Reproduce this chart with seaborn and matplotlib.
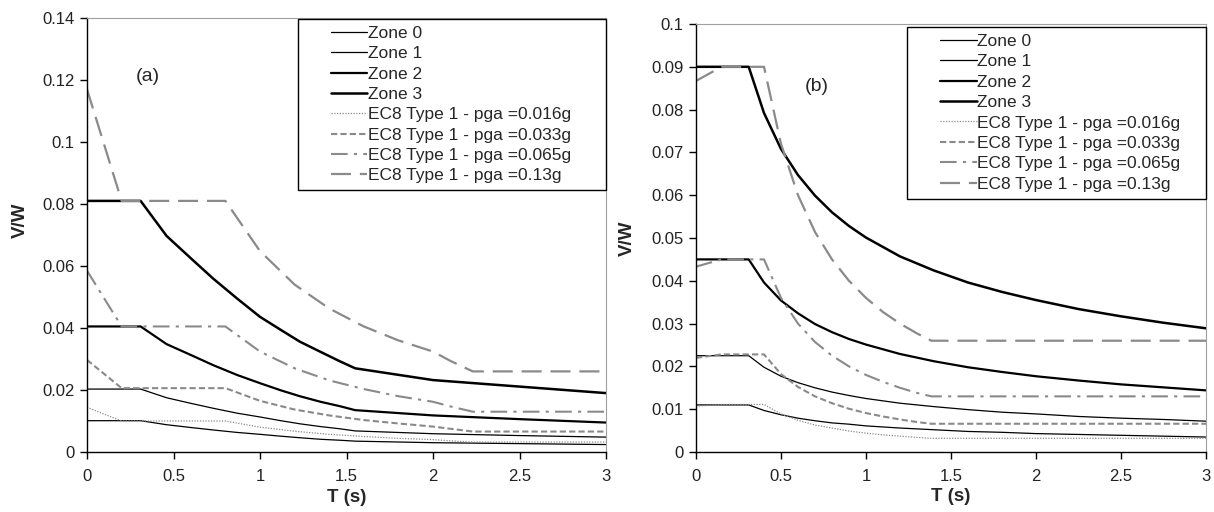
import numpy as np
import matplotlib
matplotlib.use("Agg")
import matplotlib.pyplot as plt
from matplotlib.ticker import MultipleLocator, FuncFormatter
from matplotlib.legend_handler import HandlerLine2D
import seaborn as sns

# ---------------- panel (a) ----------------
t_zone_a = [0, 0.31, 0.46, 0.60, 0.73, 0.87, 1.0, 1.12, 1.23, 1.35, 1.46, 1.55, 2.0, 2.5, 3.0]
zone0_a = [0.0101, 0.0101, 0.0088, 0.0079, 0.0071, 0.0063, 0.0057, 0.0051, 0.0046, 0.0041, 0.0038, 0.0035, 0.0030, 0.0027, 0.0024]
zone1_a = [0.0203, 0.0203, 0.0175, 0.0157, 0.0141, 0.0125, 0.0113, 0.0101, 0.0091, 0.0082, 0.0075, 0.0068, 0.0059, 0.0053, 0.0048]
zone2_a = [0.0405, 0.0405, 0.0348, 0.0313, 0.0280, 0.0248, 0.0222, 0.0199, 0.0180, 0.0162, 0.0148, 0.0135, 0.0118, 0.0106, 0.0095]
zone3_a = [0.081, 0.081, 0.0697, 0.0625, 0.0559, 0.0494, 0.0436, 0.0394, 0.0356, 0.0323, 0.0293, 0.0270, 0.0232, 0.0211, 0.0190]

t_ec8_a = [0, 0.2, 0.8, 1.0, 1.2, 1.4, 1.6, 1.8, 2.0, 2.1, 2.23, 3.0]
ec8_016_a = [0.0144, 0.0100, 0.0100, 0.0080, 0.0067, 0.0057, 0.0050, 0.0044, 0.0040, 0.0036, 0.0032, 0.0032]
ec8_033_a = [0.0297, 0.0206, 0.0206, 0.0165, 0.0137, 0.0118, 0.0103, 0.0092, 0.0082, 0.0075, 0.0066, 0.0066]
ec8_065_a = [0.0585, 0.0405, 0.0405, 0.0324, 0.0270, 0.0231, 0.0203, 0.0180, 0.0162, 0.0147, 0.0130, 0.0130]
ec8_13_a = [0.117, 0.081, 0.081, 0.0648, 0.0540, 0.0463, 0.0405, 0.0360, 0.0324, 0.0294, 0.0260, 0.0260]

# ---------------- panel (b) ----------------
t_zone_b = [0, 0.31, 0.4, 0.5, 0.6, 0.7, 0.8, 0.9, 1.0, 1.2, 1.4, 1.6, 1.8, 2.0, 2.25, 2.5, 2.75, 3.0]
zone0_b = [0.0110, 0.0110, 0.0097, 0.0087, 0.0079, 0.0073, 0.0068, 0.0065, 0.0061, 0.0056, 0.0052, 0.0048, 0.0046, 0.0043, 0.0041, 0.0039, 0.0037, 0.0035]
zone1_b = [0.0225, 0.0225, 0.0198, 0.0177, 0.0162, 0.0150, 0.0140, 0.0132, 0.0125, 0.0114, 0.0106, 0.0099, 0.0093, 0.0089, 0.0083, 0.0079, 0.0076, 0.0072]
zone2_b = [0.045, 0.045, 0.0396, 0.0354, 0.0324, 0.0299, 0.0280, 0.0264, 0.0251, 0.0229, 0.0212, 0.0198, 0.0187, 0.0177, 0.0167, 0.0158, 0.0151, 0.0144]
zone3_b = [0.090, 0.090, 0.0792, 0.0708, 0.0647, 0.0599, 0.0560, 0.0528, 0.0501, 0.0457, 0.0424, 0.0396, 0.0374, 0.0355, 0.0334, 0.0317, 0.0302, 0.0289]

t_ec8_b = [0, 0.15, 0.4, 0.5, 0.6, 0.7, 0.8, 0.9, 1.0, 1.1, 1.2, 1.3, 1.385, 3.0]
ec8_016_b = [0.0107, 0.0111, 0.0111, 0.0089, 0.0074, 0.0063, 0.0056, 0.0049, 0.0044, 0.0040, 0.0037, 0.0034, 0.0032, 0.0032]
ec8_033_b = [0.0220, 0.0228, 0.0228, 0.0182, 0.0152, 0.0130, 0.0114, 0.0101, 0.0091, 0.0083, 0.0076, 0.0070, 0.0066, 0.0066]
ec8_065_b = [0.0433, 0.045, 0.045, 0.0360, 0.0300, 0.0257, 0.0225, 0.0200, 0.0180, 0.0164, 0.0150, 0.0138, 0.0130, 0.0130]
ec8_13_b = [0.0867, 0.090, 0.090, 0.0720, 0.0600, 0.0514, 0.0450, 0.0400, 0.0360, 0.0327, 0.0300, 0.0277, 0.0260, 0.0260]

zone_labels = ["Zone 0", "Zone 1", "Zone 2", "Zone 3"]
ec8_labels = ["EC8 Type 1 - pga =0.016g", "EC8 Type 1 - pga =0.033g",
              "EC8 Type 1 - pga =0.065g", "EC8 Type 1 - pga =0.13g"]

# line styles (same for both panels)
zone_lw = [0.9, 0.9, 1.6, 1.8]
grey = "#8a8a8a"
ec8_styles = [dict(lw=0.9, linestyle=(0, (1, 1.2))),
              dict(lw=1.5, linestyle=(0, (3, 1.5))),
              dict(lw=1.5, linestyle=(0, (8, 3, 1.5, 3))),
              dict(lw=1.6, linestyle=(0, (9, 4)))]


class KeyRight(HandlerLine2D):
    # Excel-like legend key: short line with blank space before it
    def get_xdata(self, legend, xdescent, ydescent, width, height, fontsize):
        xd = [-xdescent + 0.41 * width, -xdescent + width]
        return xd, [-xdescent + 0.7 * width]


sns.set_style("white")
plt.rcParams["font.family"] = ["Liberation Sans", "DejaVu Sans"]

fig = plt.figure(figsize=(12.14, 5.12), dpi=100)
ax_a = fig.add_axes([87 / 1214, 1 - 452 / 512, 519 / 1214, 434 / 512])
ax_b = fig.add_axes([696 / 1214, 1 - 452 / 512, 510 / 1214, 428 / 512])

panels = [
    (ax_a, t_zone_a, [zone0_a, zone1_a, zone2_a, zone3_a],
     t_ec8_a, [ec8_016_a, ec8_033_a, ec8_065_a, ec8_13_a], 0.14, 0.02, "(a)", (0.35, 0.121),
     (0.4066, 0.53, 0.593, 0.468)),
    (ax_b, t_zone_b, [zone0_b, zone1_b, zone2_b, zone3_b],
     t_ec8_b, [ec8_016_b, ec8_033_b, ec8_065_b, ec8_13_b], 0.1, 0.01, "(b)", (0.71, 0.0853),
     (0.414, 0.52, 0.586, 0.473)),
]

for ax, tz, zones, te, ec8s, ymax, ystep, tag, tagpos, legbox in panels:
    for lab, vals, lw in zip(zone_labels, zones, zone_lw):
        sns.lineplot(x=tz, y=vals, ax=ax, color="black", lw=lw, label=lab)
    for lab, vals, st in zip(ec8_labels, ec8s, ec8_styles):
        sns.lineplot(x=te, y=vals, ax=ax, color=grey, label=lab, **st)

    ax.set_xlim(0, 3)
    ax.set_ylim(0, ymax)
    ax.xaxis.set_major_locator(MultipleLocator(0.5))
    ax.yaxis.set_major_locator(MultipleLocator(ystep))
    fmt = FuncFormatter(lambda v, p: f"{v:g}")
    ax.xaxis.set_major_formatter(fmt)
    ax.yaxis.set_major_formatter(fmt)
    ax.tick_params(axis="both", direction="out", length=5, width=1, color="black",
                   labelsize=12, labelcolor="#222222")
    ax.tick_params(axis="x", pad=7, bottom=True)
    ax.tick_params(axis="y", pad=4, left=True)

    for side in ["left", "bottom"]:
        ax.spines[side].set_color("black")
        ax.spines[side].set_linewidth(1.0)
    for side in ["top", "right"]:
        ax.spines[side].set_color("#a0a0a0")
        ax.spines[side].set_linewidth(0.8)

    ax.set_xlabel("T (s)", fontsize=13.5, fontweight="bold")
    ax.set_ylabel("V/W", fontsize=13.5, fontweight="bold")
    ax.xaxis.set_label_coords(0.5, -0.085)
    ax.text(tagpos[0], tagpos[1], tag, fontsize=14, ha="center", va="center")

    handles, labels = ax.get_legend_handles_labels()
    leg = ax.legend(handles, labels, loc="upper left", bbox_to_anchor=legbox, mode="expand",
                    fontsize=12.5, frameon=True, fancybox=False, edgecolor="black",
                    framealpha=1, borderpad=0.4, labelspacing=0.3, handlelength=3.6,
                    handletextpad=0.05, borderaxespad=0,
                    handler_map={matplotlib.lines.Line2D: KeyRight()})
    leg.get_frame().set_linewidth(1.0)

ax_a.yaxis.set_label_coords(-0.112, 0.535)
ax_b.yaxis.set_label_coords(-0.118, 0.5)

fig.savefig("out.png", dpi=100)
